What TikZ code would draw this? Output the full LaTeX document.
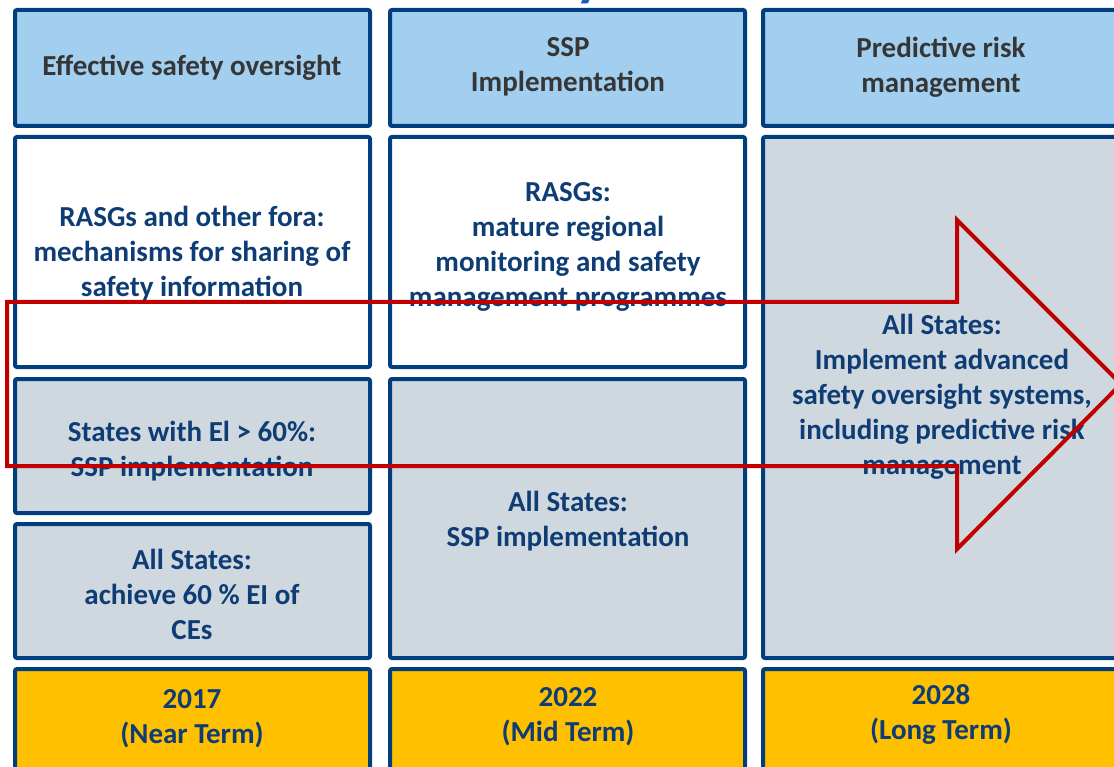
\documentclass[tikz,border=0pt]{standalone}
\usepackage{fontspec}
\setmainfont{Carlito}
\definecolor{bordc}{HTML}{003E7E}
\definecolor{hdrfill}{HTML}{A2CEEF}
\definecolor{greyfill}{HTML}{D0D8DF}
\definecolor{yelfill}{HTML}{FFC000}
\definecolor{bodytxt}{HTML}{0E3D75}
\definecolor{hdrtxt}{HTML}{363636}
\definecolor{arrowred}{HTML}{C00000}
\definecolor{titleblue}{HTML}{1F5CB8}
\begin{document}
\begin{tikzpicture}[x=1pt,y=-1pt,
  cell/.style={draw=bordc, line width=4pt, rounded corners=2pt, inner sep=0pt},
  hdrbox/.style={cell, fill=hdrfill},
  whitebox/.style={cell, fill=white},
  greybox/.style={cell, fill=greyfill},
  yelbox/.style={cell, fill=yelfill},
  txt/.style={align=center, inner sep=0pt, yshift=-2pt, font=\fontsize{29}{35}\selectfont\bfseries, text=bodytxt},
  htxt/.style={txt, text=hdrtxt},
  arrowline/.style={draw=arrowred, line width=4pt, line join=miter}
]
\useasboundingbox (0,0) rectangle (1114,767);
% title fragment
\node[inner sep=0pt, anchor=base, font=\fontsize{60}{60}\selectfont\bfseries, text=titleblue] (ttl) at (590,-5) {y};
% headers
\draw[hdrbox] (15,10) rectangle (370,126) coordinate (h1);
\draw[hdrbox] (390,10) rectangle (745,126) coordinate (h2);
\draw[hdrbox] (763,10) rectangle (1125,126) coordinate (h3);
\node[htxt] (th1) at (192,66) {Effective safety oversight};
\node[htxt] (th2) at (568,65) {SSP\\Implementation};
\node[htxt] (th3) at (941,65) {Predictive risk\\management};
% column 1
\draw[whitebox] (15,137) rectangle (370,367);
\draw[greybox] (15,379) rectangle (370,513);
\draw[greybox] (15,524) rectangle (370,658);
\node[txt] (t11) at (192,252) {RASGs and other fora:\\mechanisms for sharing of\\safety information};
\node[txt] (t12) at (192,449) {States with El > 60\%:\\SSP implementation};
\node[txt] (t13) at (192,592) {All States:\\achieve 60 \% EI of\\CEs};
% column 2
\draw[whitebox] (390,137) rectangle (745,367);
\draw[greybox] (390,379) rectangle (745,658);
\node[txt] (t21) at (568,245) {RASGs:\\mature regional\\monitoring and safety\\management programmes};
\node[txt] (t22) at (568,519) {All States:\\SSP implementation};
% column 3
\draw[greybox] (763,137) rectangle (1125,658);
\node[txt] (t31) at (942,395) {All States:\\Implement advanced\\safety oversight systems,\\including predictive risk\\management};
% years
\draw[yelbox] (15,669) rectangle (370,790);
\draw[yelbox] (390,669) rectangle (745,790);
\draw[yelbox] (763,669) rectangle (1125,790);
\node[txt] (y1) at (192,717) {2017\\(Near Term)};
\node[txt] (y2) at (568,715) {2022\\(Mid Term)};
\node[txt] (y3) at (941,712) {2028\\(Long Term)};
% arrow
\draw[arrowline] (7,302) -- (957,302) -- (957,220) -- (1121,384) -- (957,549) -- (957,466) -- (7,466) -- cycle;
\end{tikzpicture}
\end{document}
